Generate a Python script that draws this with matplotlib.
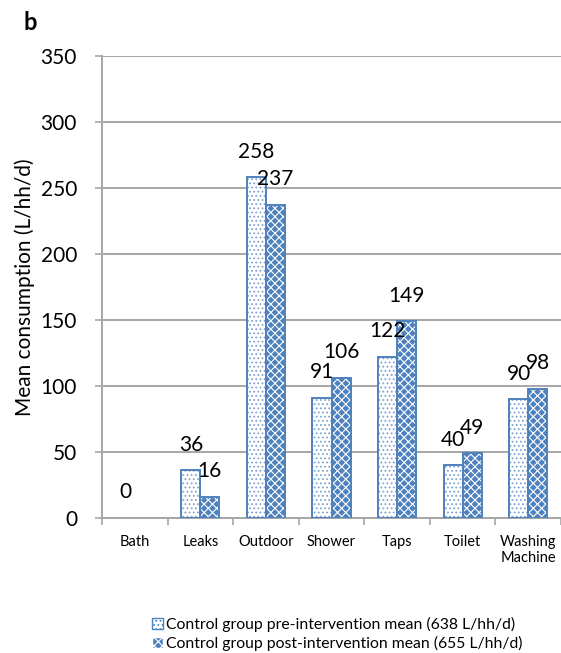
import matplotlib
matplotlib.use("Agg")
import matplotlib.pyplot as plt
import numpy as np
from matplotlib.patches import Patch

plt.rcParams['font.family'] = ['Lato', 'DejaVu Sans']
plt.rcParams['hatch.linewidth'] = 0.8

categories = ["Bath", "Leaks", "Outdoor", "Shower", "Taps", "Toilet", "Washing\nMachine"]
pre_values = [0, 36, 258, 91, 122, 40, 90]
post_values = [0, 16, 237, 106, 149, 49, 98]
pre_label = "Control group pre-intervention mean (638 L/hh/d)"
post_label = "Control group post-intervention mean (655 L/hh/d)"
y_ticks = [0, 50, 100, 150, 200, 250, 300, 350]

blue = "#4f81bd"
grid_gray = "#a6a6a6"

fig = plt.figure(figsize=(5.61, 6.53), dpi=100)
ax = fig.add_axes([102 / 561, 1 - 518 / 653, 1 - 102 / 561, (518 - 56) / 653])

x = np.arange(len(categories))
w = 0.29


def draw_series(xpos, values, face, hatch_color, hatch):
    xs = np.array([p for p, v in zip(xpos, values) if v > 0])
    vs = np.array([v for v in values if v > 0])
    ax.bar(xs, vs, w, facecolor=face, edgecolor=hatch_color,
           hatch=hatch, linewidth=0, zorder=3)
    ax.bar(xs, vs, w, facecolor="none", edgecolor=blue,
           linewidth=1.4, zorder=4)


# pre-intervention: white bars with light blue dots
draw_series(x - w / 2, pre_values, "white", "#7fa3d1", "....")
# post-intervention: blue bars with white lattice
draw_series(x + w / 2, post_values, blue, "white", "xxxx")

for xi, v in zip(x - w / 2, pre_values):
    ax.annotate(str(v), (xi, v), xytext=(0, 18.5), textcoords="offset points",
                ha="center", va="center", fontsize=15, zorder=5)
for xi, v in zip(x + w / 2, post_values):
    if v == 0:
        continue
    ax.annotate(str(v), (xi, v), xytext=(0, 18.5), textcoords="offset points",
                ha="center", va="center", fontsize=15, zorder=5)

ax.set_xlim(-0.5, len(categories) - 0.5)
ax.set_ylim(0, 350)
ax.set_yticks(y_ticks)
ax.tick_params(axis="y", labelsize=15, length=5, width=1.2, color=grid_gray, pad=13)
ax.yaxis.grid(True, color=grid_gray, linewidth=1.4, zorder=0)
ax.set_axisbelow(True)

ax.set_xticks(x)
ax.set_xticklabels(categories, fontsize=10.5, va="top", linespacing=1.2)
ax.tick_params(axis="x", which="major", length=0, pad=12)
ax.set_xticks(np.arange(len(categories) + 1) - 0.5, minor=True)
ax.tick_params(axis="x", which="minor", length=5, width=1.2, color=grid_gray)

for s in ["top", "right"]:
    ax.spines[s].set_visible(False)
for s in ["left", "bottom"]:
    ax.spines[s].set_color(grid_gray)
    ax.spines[s].set_linewidth(1.4)

ax.set_ylabel("Mean consumption (L/hh/d)", fontsize=15, labelpad=4)

fig.text(30 / 561, 1 - 22 / 653, "b", fontsize=17, fontweight="bold",
         ha="center", va="center")

handles = [
    Patch(facecolor="white", edgecolor=blue, hatch="....", linewidth=1),
    Patch(facecolor=blue, edgecolor="white", hatch="xxxx", linewidth=1),
]
fig.legend(handles, [pre_label, post_label], loc="center left",
           bbox_to_anchor=(144 / 561, 1 - 634 / 653), frameon=False,
           fontsize=11.3, handlelength=0.7, handleheight=0.7, handletextpad=0.2,
           labelspacing=0.2, borderpad=0)

fig.savefig("out.png", dpi=100)
